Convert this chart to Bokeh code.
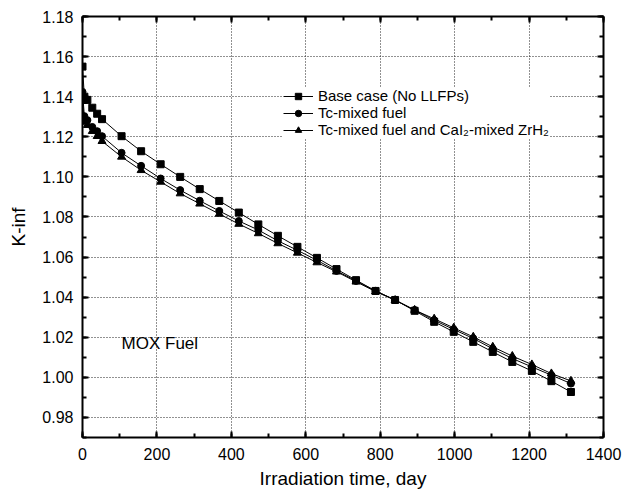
from bokeh.plotting import figure
from bokeh.models import (LinearAxis, SingleIntervalTicker, Range1d, Legend, LegendItem,
                          Label, CustomJSTickFormatter)
from bokeh.embed import file_html
from bokeh.resources import INLINE

# ---- data ----
days = [0, 5, 13.1, 26.3, 39.4, 52.5, 105, 157.5, 210, 262.5, 315, 367.5, 420, 472.5,
        525, 577.5, 630, 682.5, 735, 787.5, 840, 892.5, 945, 997.5, 1050, 1102.5,
        1155, 1207.5, 1260, 1312.5]

kinf_base = [1.1550, 1.1400, 1.1384, 1.1345, 1.1315, 1.1288, 1.1203, 1.1128, 1.1063, 1.1000,
             1.0939, 1.0880, 1.0822, 1.0763, 1.0706, 1.0651, 1.0596, 1.0540, 1.0485, 1.0431,
             1.0386, 1.0332, 1.0277, 1.0227, 1.0177, 1.0127, 1.0077, 1.0032, 0.9981, 0.9927]

kinf_tc = [1.1424, 1.1303, 1.1283, 1.1249, 1.1228, 1.1203, 1.1120, 1.1055, 1.0992, 1.0934,
           1.0881, 1.0830, 1.0780, 1.0735, 1.0681, 1.0634, 1.0584, 1.0531, 1.0481, 1.0431,
           1.0386, 1.0336, 1.0285, 1.0239, 1.0194, 1.0142, 1.0094, 1.0052, 1.0011, 0.9969]

kinf_tc_cai = [1.1378, 1.1274, 1.1258, 1.1228, 1.1203, 1.1178, 1.1100, 1.1033, 1.0975, 1.0917,
               1.0866, 1.0815, 1.0765, 1.0718, 1.0668, 1.0621, 1.0573, 1.0527, 1.0477, 1.0428,
               1.0385, 1.0336, 1.0292, 1.0247, 1.0202, 1.0152, 1.0106, 1.0064, 1.0019, 0.9982]

series_labels = ["Base case (No LLFPs)", "Tc-mixed fuel", "Tc-mixed fuel and CaI\u2082-mixed ZrH\u2082"]
x_title = "Irradiation time, day"
y_title = "K-inf"
note = "MOX Fuel"

FONT = "Liberation Sans"

p = figure(frame_width=521, frame_height=421,
           x_range=Range1d(0, 1400), y_range=Range1d(0.97, 1.18),
           output_backend="svg", toolbar_location=None,
           min_border_left=82, min_border_top=16, min_border_right=20, min_border_bottom=50,
           x_axis_label=x_title, y_axis_label=y_title)
p.outline_line_color = None
p.background_fill_color = "white"

xt = SingleIntervalTicker(interval=200, num_minor_ticks=2)
yt = SingleIntervalTicker(interval=0.02, num_minor_ticks=2)


def style_axis(ax, labels=True):
    ax.axis_line_width = 2
    ax.axis_line_color = "black"
    ax.major_tick_in = 6
    ax.major_tick_out = 0
    ax.minor_tick_in = 4
    ax.minor_tick_out = 0
    ax.major_tick_line_width = 2
    ax.minor_tick_line_width = 2
    ax.major_tick_line_color = "black"
    ax.minor_tick_line_color = "black"
    ax.major_label_text_font = FONT
    ax.major_label_text_font_size = "16px"
    ax.major_label_text_color = "black"
    ax.axis_label_text_font = FONT
    ax.axis_label_text_font_size = "19px"
    ax.axis_label_text_font_style = "normal"
    ax.axis_label_text_color = "black"
    if not labels:
        ax.formatter = CustomJSTickFormatter(code="return ''")
        ax.major_label_standoff = 0


p.xaxis.ticker = xt
p.yaxis.ticker = yt
style_axis(p.xaxis[0])
style_axis(p.yaxis[0])
p.xaxis.major_label_standoff = 10
p.xaxis.axis_label_standoff = 5
p.yaxis.major_label_standoff = 9
p.yaxis.axis_label_standoff = 10
p.yaxis.formatter = CustomJSTickFormatter(code="return tick.toFixed(2)")

top = LinearAxis(ticker=SingleIntervalTicker(interval=200, num_minor_ticks=2))
right = LinearAxis(ticker=SingleIntervalTicker(interval=0.02, num_minor_ticks=2))
style_axis(top, labels=False)
style_axis(right, labels=False)
p.add_layout(top, "above")
p.add_layout(right, "right")

for g in (p.xgrid[0], p.ygrid[0]):
    g.grid_line_color = "#222222"
    g.grid_line_dash = "1 2"
    g.grid_line_width = 1
p.xgrid.ticker = xt
p.ygrid.ticker = yt

items = []
markers = ["square", "circle", "triangle"]
sizes = [7, 7, 8]
for ys, lab, mk, sz in zip([kinf_base, kinf_tc, kinf_tc_cai], series_labels, markers, sizes):
    l = p.line(days, ys, line_color="black", line_width=1)
    s = p.scatter(days, ys, marker=mk, size=sz, fill_color="black", line_color="black")
    items.append(LegendItem(label=lab, renderers=[l, s]))

legend = Legend(items=items, location=(201, 299))
legend.border_line_color = None
legend.background_fill_color = "white"
legend.background_fill_alpha = 1
legend.label_text_font = FONT
legend.label_text_font_size = "15px"
legend.label_text_color = "black"
legend.glyph_width = 30
legend.glyph_height = 16
legend.label_height = 16
legend.label_standoff = 5
legend.spacing = 0
legend.padding = 5
legend.margin = 0
p.add_layout(legend, "center")

p.add_layout(Label(x=105, y=1.017, text=note, text_font=FONT, text_font_size="17px",
                   text_baseline="middle", text_color="black"))

open("out.html", "w").write(file_html(p, INLINE))
